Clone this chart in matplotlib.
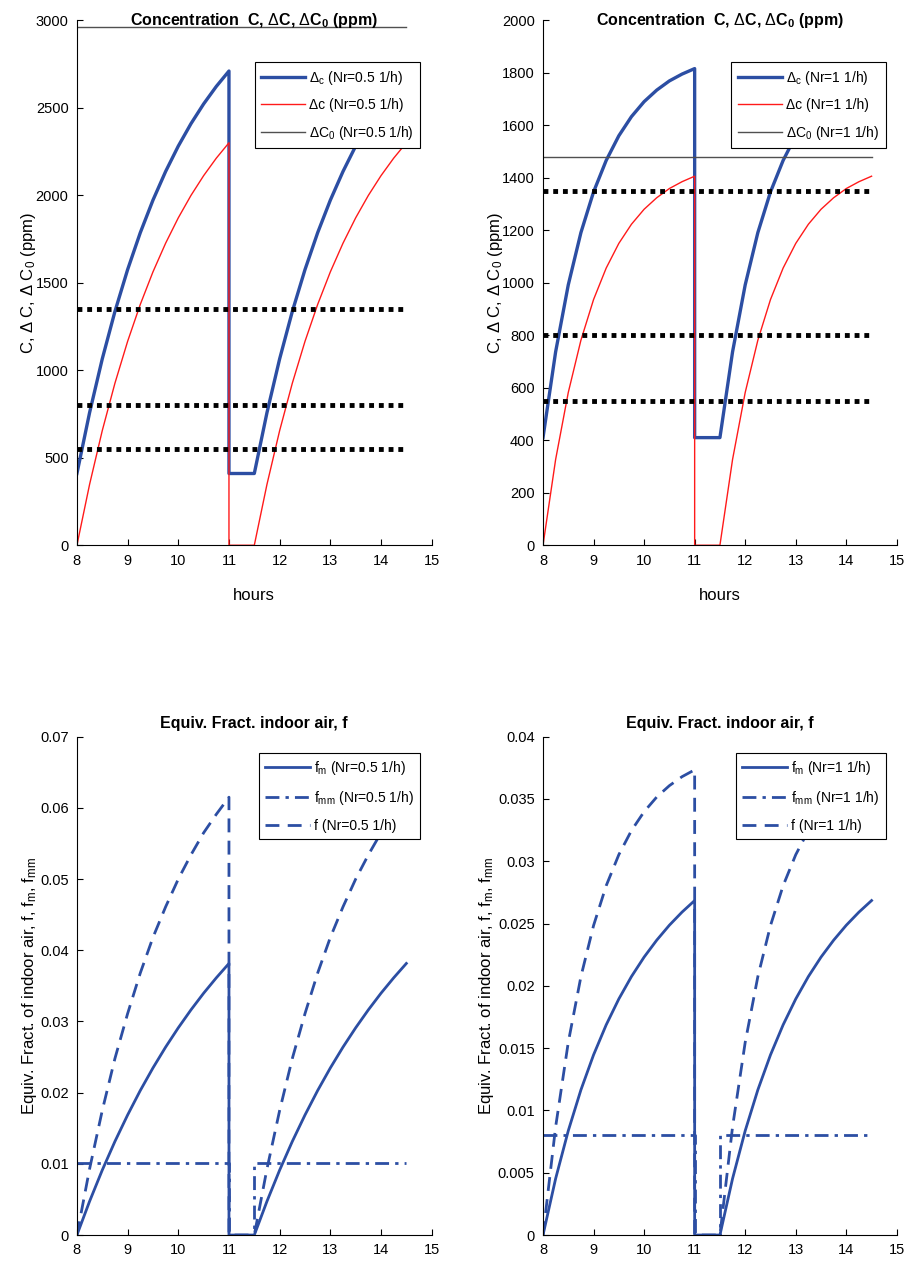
import matplotlib
matplotlib.use("Agg")
import matplotlib.pyplot as plt

plt.rcParams['font.family'] = ['Liberation Sans', 'DejaVu Sans']
plt.rcParams['mathtext.fontset'] = 'custom'
plt.rcParams['mathtext.rm'] = 'Liberation Sans'
plt.rcParams['mathtext.it'] = 'Liberation Sans'
plt.rcParams['mathtext.bf'] = 'Liberation Sans:bold'

# time axis: rise 8-11 h, break 11-11.5 h, rise 11.5-14.5 h
hours = [8.0, 8.25, 8.5, 8.75, 9.0, 9.25, 9.5, 9.75, 10.0, 10.25, 10.5, 10.75, 11.0,
         11.0,
         11.5, 11.75, 12.0, 12.25, 12.5, 12.75, 13.0, 13.25, 13.5, 13.75, 14.0, 14.25, 14.5]

# Nr = 0.5 1/h
C_05 = [410, 758, 1065, 1336, 1575, 1786, 1972, 2136, 2281, 2409, 2522, 2622, 2710,
        410,
        410, 758, 1065, 1336, 1575, 1786, 1972, 2136, 2281, 2409, 2522, 2622, 2710]
dC_05 = [0, 348, 655, 926, 1165, 1376, 1562, 1726, 1871, 1999, 2112, 2212, 2300,
         0,
         0, 348, 655, 926, 1165, 1376, 1562, 1726, 1871, 1999, 2112, 2212, 2300]
dC0_05 = 2960

# Nr = 1 1/h
C_1 = [410, 737, 992, 1191, 1346, 1466, 1560, 1633, 1690, 1734, 1769, 1795, 1816,
       410,
       410, 737, 992, 1191, 1346, 1466, 1560, 1633, 1690, 1734, 1769, 1795, 1816]
dC_1 = [0, 327, 582, 781, 936, 1056, 1150, 1223, 1280, 1324, 1359, 1385, 1406,
        0,
        0, 327, 582, 781, 936, 1056, 1150, 1223, 1280, 1324, 1359, 1385, 1406]
dC0_1 = 1480

limits = [1350, 800, 550]
x_span = [8, 14.5]

# equivalent fraction of indoor air
f_05 = [0, 0.0093, 0.0175, 0.0248, 0.0311, 0.0368, 0.0418, 0.0461, 0.0500, 0.0534, 0.0565, 0.0591, 0.0615,
        0,
        0, 0.0093, 0.0175, 0.0248, 0.0311, 0.0368, 0.0418, 0.0461, 0.0500, 0.0534, 0.0565, 0.0591, 0.0615]
fm_05 = [0, 0.00474, 0.00912, 0.01315, 0.01686, 0.0203, 0.02347, 0.0264, 0.02911, 0.03163, 0.03397, 0.03613, 0.03815,
         0,
         0, 0.00474, 0.00912, 0.01315, 0.01686, 0.0203, 0.02347, 0.0264, 0.02911, 0.03163, 0.03397, 0.03613, 0.03815]
fmm_hours = [8, 11, 11, 11.5, 11.5, 14.5]
fmm_05 = [0.0101, 0.0101, 0, 0, 0.0101, 0.0101]

f_1 = [0, 0.00869, 0.01547, 0.02074, 0.02484, 0.02804, 0.03053, 0.03247, 0.03398, 0.03516, 0.03607, 0.03679, 0.03734,
       0,
       0, 0.00869, 0.01547, 0.02074, 0.02484, 0.02804, 0.03053, 0.03247, 0.03398, 0.03516, 0.03607, 0.03679, 0.03734]
fm_1 = [0, 0.00453, 0.00837, 0.01165, 0.01446, 0.01687, 0.01895, 0.02075, 0.02231, 0.02367, 0.02487, 0.02592, 0.02685,
        0,
        0, 0.00453, 0.00837, 0.01165, 0.01446, 0.01687, 0.01895, 0.02075, 0.02231, 0.02367, 0.02487, 0.02592, 0.02685]
fmm_1 = [0.008, 0.008, 0, 0, 0.008, 0.008]

blue = '#2c4ea3'
red = '#ff1a1a'
gray = '#505050'
dash = (0, (5, 3))
dashdot = (0, (5, 2.2, 1.2, 2.2))

fig = plt.figure(figsize=(9.05, 12.68), dpi=100)
ax1 = fig.add_axes([0.085, 0.570, 0.392, 0.414])
ax2 = fig.add_axes([0.600, 0.570, 0.391, 0.414])
ax3 = fig.add_axes([0.085, 0.026, 0.392, 0.393])
ax4 = fig.add_axes([0.600, 0.026, 0.391, 0.393])


def style(ax):
    ax.spines['top'].set_visible(False)
    ax.spines['right'].set_visible(False)
    ax.tick_params(direction='in', labelsize=10.5, length=4, width=0.8, pad=6)
    ax.set_xlim(8, 15)
    ax.set_xticks(range(8, 16))


def add_legend(ax, top):
    leg = ax.legend(loc='upper right', bbox_to_anchor=(0.968, top), fontsize=10,
                    handlelength=3.2, fancybox=False, framealpha=1,
                    edgecolor='black', borderpad=0.45, labelspacing=0.85,
                    handletextpad=0.3, borderaxespad=0)
    leg.get_frame().set_linewidth(0.8)


def conc_panel(ax, C, dC, dC0, nr, ymax, ystep):
    ax.plot(hours, C, color=blue, lw=2.4, label=r'$\Delta_{c}$' + f' (Nr={nr} 1/h)')
    ax.plot(hours, dC, color=red, lw=1.0, label=f'\u0394c (Nr={nr} 1/h)')
    ax.plot(x_span, [dC0, dC0], color=gray, lw=1.0, label=r'$\Delta$C$_0$' + f' (Nr={nr} 1/h)')
    for lim in limits:
        ax.plot(x_span, [lim, lim], color='black', lw=3.5, linestyle=(0, (1, 1)))
    style(ax)
    ax.set_ylim(0, ymax)
    ax.set_yticks(range(0, ymax + 1, ystep))
    ax.set_xlabel('hours', fontsize=12, labelpad=15)
    ax.set_ylabel(r'C, $\Delta$ C, $\Delta$ C$_0$ (ppm)', fontsize=12, labelpad=-2)
    ax.set_title(r'Concentration  C, $\Delta$C, $\Delta$C$_{\mathbf{0}}$ (ppm)',
                 fontsize=11.5, fontweight='bold', y=0.991, pad=0)
    add_legend(ax, 0.92)


def frac_panel(ax, f, fm, fmm, nr, ymax, ystep, decimals):
    ax.plot(hours, fm, color=blue, lw=2.0, label=r'f$_m$' + f' (Nr={nr} 1/h)')
    ax.plot(fmm_hours, fmm, color=blue, lw=2.0, linestyle=dashdot,
            label=r'f$_{mm}$' + f' (Nr={nr} 1/h)')
    ax.plot(hours, f, color=blue, lw=2.0, linestyle=dash, label=f'f (Nr={nr} 1/h)')
    style(ax)
    ax.set_ylim(0, ymax)
    ticks = [i * ystep for i in range(int(round(ymax / ystep)) + 1)]
    ax.set_yticks(ticks)
    ax.set_yticklabels(['0'] + [f'{t:.{decimals}f}'.rstrip('0') for t in ticks[1:]])
    ax.set_ylabel(r'Equiv. Fract. of indoor air, f, f$_m$, f$_{mm}$', fontsize=12, labelpad=1)
    ax.set_title('Equiv. Fract. indoor air, f', fontsize=11.5, fontweight='bold')
    add_legend(ax, 0.968)


conc_panel(ax1, C_05, dC_05, dC0_05, '0.5', 3000, 500)
conc_panel(ax2, C_1, dC_1, dC0_1, '1', 2000, 200)
frac_panel(ax3, f_05, fm_05, fmm_05, '0.5', 0.07, 0.01, 2)
frac_panel(ax4, f_1, fm_1, fmm_1, '1', 0.04, 0.005, 3)

plt.savefig('out.png', dpi=100)
